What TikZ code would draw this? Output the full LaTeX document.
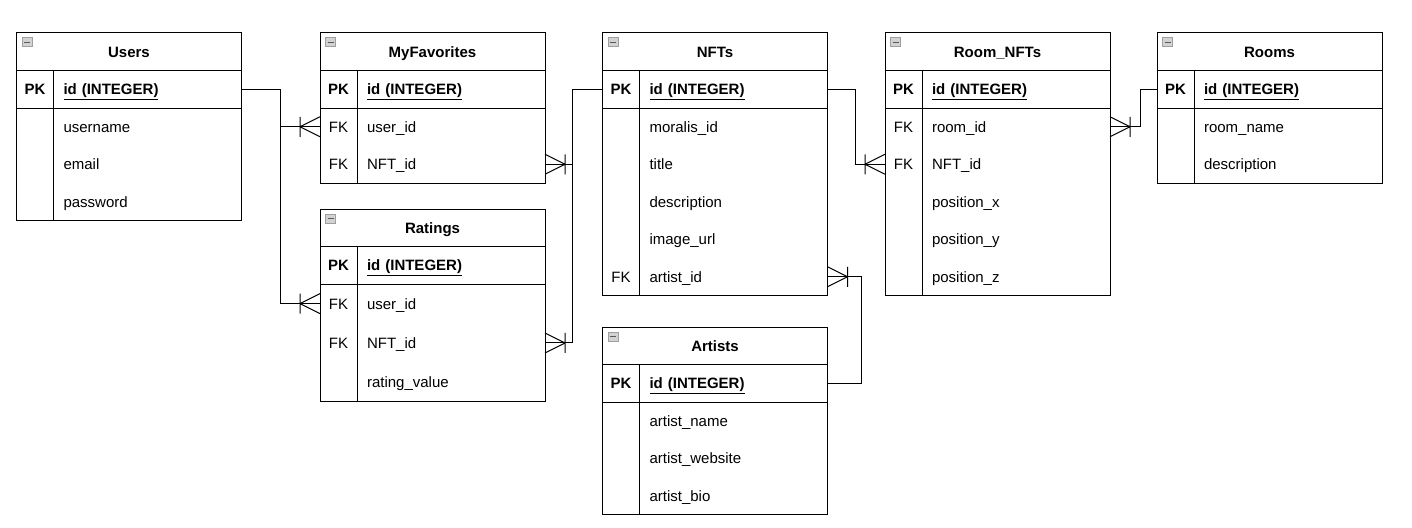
\documentclass[tikz,border=0pt]{standalone}
\usepackage{fontspec}
\setmainfont{Liberation Sans}
\usetikzlibrary{matrix,positioning,decorations.markings}

\tikzset{
  tbl/.style={matrix of nodes, nodes in empty cells, draw, anchor=north west,
    inner sep=0pt, outer sep=0pt, row sep=0pt, column sep=0pt,
    nodes={inner sep=0pt, outer sep=0pt, minimum height=37.5pt, text height=11pt, text depth=0pt},
    column 1/.style={nodes={minimum width=37pt}},
    column 2/.style={nodes={text width=168pt, inner xsep=10pt, align=left}},
    row 1/.style={nodes={font=\fontsize{15}{18}\selectfont\bfseries}}},
  hdr/.style={draw, minimum width=225pt, minimum height=37.5pt, inner sep=0pt, outer sep=0pt,
    text height=11pt, text depth=0pt, font=\fontsize{15}{18}\selectfont\bfseries},
  mini/.style={draw=gray!75, fill=gray!35, minimum width=10pt, minimum height=9pt,
    inner sep=0pt, outer sep=0pt},
  rel/.style={postaction={decorate}, decoration={markings, mark=at position 1 with {
      \draw (-20,-10) -- (-20,10) (-20,0) -- (0,10) (-20,0) -- (0,-10);}}},
}

\begin{document}
\begin{tikzpicture}[x=1pt, y=-1pt, line width=1pt, font=\fontsize{15}{18}\selectfont]
  \useasboundingbox (0,0) rectangle (1412,527);

  % Users
  \matrix[tbl] (users) at (16.5,70.5) {
    PK & \underline{id (INTEGER)} \\
       & username \\
       & email \\
       & password \\
  };
  \node[hdr, above=0pt of users] (users-h) {Users};
  \node[mini, below right=5pt and 5.5pt of users-h.north west] (users-m) {\color{black!65}\rule{6pt}{1.6pt}};
  \draw (users-1-1.south west) -- (users-1-2.south east);
  \draw (users-1-1.north east) -- (users-1-1.north east |- users.south);

  % MyFavorites
  \matrix[tbl] (fav) at (320,70.5) {
    PK & \underline{id (INTEGER)} \\
    FK & user\_id \\
    FK & NFT\_id \\
  };
  \node[hdr, above=0pt of fav] (fav-h) {MyFavorites};
  \node[mini, below right=5pt and 5.5pt of fav-h.north west] (fav-m) {\color{black!65}\rule{6pt}{1.6pt}};
  \draw (fav-1-1.south west) -- (fav-1-2.south east);
  \draw (fav-1-1.north east) -- (fav-1-1.north east |- fav.south);

  % Ratings
  \matrix[tbl, nodes={minimum height=39.3pt}, row 1/.append style={nodes={minimum height=37.5pt}}]
    (rat) at (320,246.5) {
    PK & \underline{id (INTEGER)} \\
    FK & user\_id \\
    FK & NFT\_id \\
       & rating\_value \\
  };
  \node[hdr, above=0pt of rat] (rat-h) {Ratings};
  \node[mini, below right=5pt and 5.5pt of rat-h.north west] (rat-m) {\color{black!65}\rule{6pt}{1.6pt}};
  \draw (rat-1-1.south west) -- (rat-1-2.south east);
  \draw (rat-1-1.north east) -- (rat-1-1.north east |- rat.south);

  % NFTs
  \matrix[tbl] (nft) at (602.5,70.5) {
    PK & \underline{id (INTEGER)} \\
       & moralis\_id \\
       & title \\
       & description \\
       & image\_url \\
    FK & artist\_id \\
  };
  \node[hdr, above=0pt of nft] (nft-h) {NFTs};
  \node[mini, below right=5pt and 5.5pt of nft-h.north west] (nft-m) {\color{black!65}\rule{6pt}{1.6pt}};
  \draw (nft-1-1.south west) -- (nft-1-2.south east);
  \draw (nft-1-1.north east) -- (nft-1-1.north east |- nft.south);

  % Artists
  \matrix[tbl] (art) at (602.5,364.5) {
    PK & \underline{id (INTEGER)} \\
       & artist\_name \\
       & artist\_website \\
       & artist\_bio \\
  };
  \node[hdr, above=0pt of art] (art-h) {Artists};
  \node[mini, below right=5pt and 5.5pt of art-h.north west] (art-m) {\color{black!65}\rule{6pt}{1.6pt}};
  \draw (art-1-1.south west) -- (art-1-2.south east);
  \draw (art-1-1.north east) -- (art-1-1.north east |- art.south);

  % Room_NFTs
  \matrix[tbl] (rn) at (885,70.5) {
    PK & \underline{id (INTEGER)} \\
    FK & room\_id \\
    FK & NFT\_id \\
       & position\_x \\
       & position\_y \\
       & position\_z \\
  };
  \node[hdr, above=0pt of rn] (rn-h) {Room\_NFTs};
  \node[mini, below right=5pt and 5.5pt of rn-h.north west] (rn-m) {\color{black!65}\rule{6pt}{1.6pt}};
  \draw (rn-1-1.south west) -- (rn-1-2.south east);
  \draw (rn-1-1.north east) -- (rn-1-1.north east |- rn.south);

  % Rooms
  \matrix[tbl] (rooms) at (1157,70.5) {
    PK & \underline{id (INTEGER)} \\
       & room\_name \\
       & description \\
  };
  \node[hdr, above=0pt of rooms] (rooms-h) {Rooms};
  \node[mini, below right=5pt and 5.5pt of rooms-h.north west] (rooms-m) {\color{black!65}\rule{6pt}{1.6pt}};
  \draw (rooms-1-1.south west) -- (rooms-1-2.south east);
  \draw (rooms-1-1.north east) -- (rooms-1-1.north east |- rooms.south);

  % relations
  \draw[rel] (users-1-2.east) -- ++(39,0) |- (fav-2-1.west);
  \draw[rel] (users-1-2.east) -- ++(39,0) |- (rat-2-1.west);
  \draw[rel] (nft-1-1.west) -- ++(-30,0) |- (fav-3-2.east);
  \draw[rel] (nft-1-1.west) -- ++(-30,0) |- (rat-3-2.east);
  \draw[rel] (nft-1-2.east) -- ++(28,0) |- (rn-3-1.west);
  \draw[rel] (rooms-1-1.west) -- ++(-17,0) |- (rn-2-2.east);
  \draw[rel] (art-1-2.east) -- ++(34,0) |- (nft-6-2.east);
\end{tikzpicture}
\end{document}
